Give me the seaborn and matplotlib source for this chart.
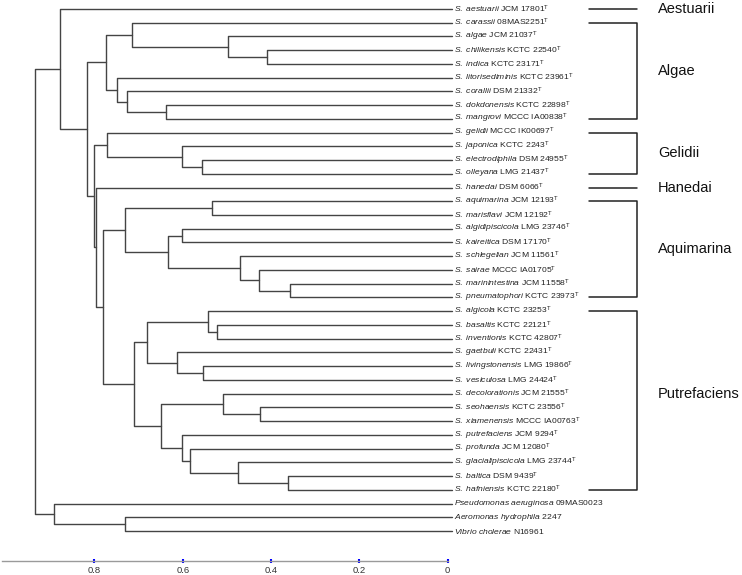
import matplotlib
matplotlib.use("Agg")
import numpy as np
import pandas as pd
import seaborn as sns
import matplotlib.pyplot as plt

# leaf labels, top to bottom
species = ["S. aestuarii", "S. carassii", "S. algae", "S. chilikensis", "S. indica",
           "S. litorisediminis", "S. corallii", "S. dokdonensis", "S. mangrovi",
           "S. gelidii", "S. japonica", "S. electrodiphila", "S. olleyana", "S. hanedai",
           "S. aquimarina", "S. marisflavi", "S. algidipiscicola", "S. kaireitica",
           "S. schlegelian", "S. sairae", "S. marinintestina", "S. pneumatophori",
           "S. algicola", "S. basaltis", "S. inventionis", "S. gaetbuli",
           "S. livingstonensis", "S. vesiculosa", "S. decolorationis", "S. seohaensis",
           "S. xiamenensis", "S. putrefaciens", "S. profunda", "S. glacialipiscicola",
           "S. baltica", "S. hafniensis", "Pseudomonas aeruginosa",
           "Aeromonas hydrophila", "Vibrio cholerae"]
strains = ["JCM 17801", "08MAS2251", "JCM 21037", "KCTC 22540", "KCTC 23171",
           "KCTC 23961", "DSM 21332", "KCTC 22898", "MCCC IA00838",
           "MCCC IK00697", "KCTC 2243", "DSM 24955", "LMG 21437", "DSM 6066",
           "JCM 12193", "JCM 12192", "LMG 23746", "DSM 17170",
           "JCM 11561", "MCCC IA01705", "JCM 11558", "KCTC 23973",
           "KCTC 23253", "KCTC 22121", "KCTC 42807", "KCTC 22431",
           "LMG 19866", "LMG 24424", "JCM 21555", "KCTC 23556",
           "MCCC IA00763", "JCM 9294", "JCM 12080", "LMG 23744",
           "DSM 9439", "KCTC 22180", "09MAS0023", "2247", "N16961"]
type_strain = [True] * 36 + [False] * 3

# joins: (node, left child, right child, distance); ints are leaf indices
joins = [
    ("chil_ind", 3, 4, 0.409),
    ("algae_n", 2, "chil_ind", 0.498),
    ("caras_n", 1, "algae_n", 0.716),
    ("dok_man", 7, 8, 0.638),
    ("coral_n", 6, "dok_man", 0.726),
    ("litor_n", 5, "coral_n", 0.750),
    ("algae_clade", "caras_n", "litor_n", 0.775),
    ("ele_oll", 11, 12, 0.556),
    ("jap_n", 10, "ele_oll", 0.602),
    ("gelidii_clade", 9, "jap_n", 0.772),
    ("aqu_mar", 14, 15, 0.533),
    ("alg_kai", 16, 17, 0.602),
    ("mari_pne", 20, 21, 0.357),
    ("sai_n", 19, "mari_pne", 0.427),
    ("sch_n", 18, "sai_n", 0.470),
    ("aqm_sub", "alg_kai", "sch_n", 0.633),
    ("aquimarina_clade", "aqu_mar", "aqm_sub", 0.730),
    ("bas_inv", 23, 24, 0.522),
    ("algic_n", 22, "bas_inv", 0.542),
    ("liv_ves", 26, 27, 0.555),
    ("gae_n", 25, "liv_ves", 0.614),
    ("put_a", "algic_n", "gae_n", 0.680),
    ("seo_xia", 29, 30, 0.426),
    ("dec_n", 28, "seo_xia", 0.509),
    ("bal_haf", 34, 35, 0.362),
    ("gla_n", 33, "bal_haf", 0.474),
    ("pro_n", 32, "gla_n", 0.583),
    ("putr_n", 31, "pro_n", 0.602),
    ("put_b", "dec_n", "putr_n", 0.650),
    ("putrefaciens_clade", "put_a", "put_b", 0.710),
    ("aqu_put", "aquimarina_clade", "putrefaciens_clade", 0.780),
    ("han_n", 13, "aqu_put", 0.797),
    ("gel_n", "gelidii_clade", "han_n", 0.801),
    ("b_n", "algae_clade", "gel_n", 0.816),
    ("shew", 0, "b_n", 0.877),
    ("aer_vib", 37, 38, 0.731),
    ("outgroup", 36, "aer_vib", 0.892),
    ("root", "shew", "outgroup", 0.935),
]

# clade brackets
clade_names = ["Aestuarii", "Algae", "Gelidii", "Hanedai", "Aquimarina", "Putrefaciens"]
clade_first = [0, 1, 9, 13, 14, 22]
clade_last = [0, 8, 12, 13, 21, 35]
clade_label_y = [0, 4.5, 10.5, 13, 17.5, 28.0]

ticks = [0.8, 0.6, 0.4, 0.2, 0]
tick_labels = ["0.8", "0.6", "0.4", "0.2", "0"]

sns.set_theme(style="white")
plt.rcParams["font.family"] = ["Liberation Sans", "DejaVu Sans"]
plt.rcParams["mathtext.fontset"] = "custom"
plt.rcParams["mathtext.rm"] = "Liberation Sans"
plt.rcParams["mathtext.it"] = "Liberation Sans:italic"

LEAF_END = -0.01

# node positions -> elbow segments
pos = {i: (LEAF_END, float(i)) for i in range(len(species))}
rows = []
for name, a, b, h in joins:
    xa, ya = pos[a]
    xb, yb = pos[b]
    for k, (px, py) in enumerate([(xa, ya), (h, ya), (h, yb), (xb, yb)]):
        rows.append({"x": px, "y": py, "seg": name, "k": k})
    pos[name] = (h, (ya + yb) / 2)
seg_df = pd.DataFrame(rows)

fig = plt.figure(figsize=(7.42, 5.75), dpi=100)
ax = fig.add_axes([0, 14 / 575, 1, 561 / 575])

sns.lineplot(data=seg_df, x="x", y="y", units="seg", estimator=None, sort=False,
             color="#444444", linewidth=1.0, ax=ax, legend=False)

ax.set_xlim(1.014, -0.6666)
ax.set_ylim(40.18, -0.648)
ax.set_xlabel("")
ax.set_ylabel("")

# leaf labels
for i, (sp, st, t) in enumerate(zip(species, strains, type_strain)):
    it = sp.replace(" ", r"\ ")
    lab = r"$\mathit{" + it + "}$ " + st
    if t:
        lab += r"$^{\mathrm{T}}$"
    ax.text(-0.0145, i, lab, fontsize=6.1, color="#222222", va="center", ha="left")

# clade brackets and names
for nm, f, l, ly in zip(clade_names, clade_first, clade_last, clade_label_y):
    if f == l:
        ax.plot([-0.32, -0.429], [f, f], color="#222222", lw=1.1)
    else:
        ax.plot([-0.32, -0.429, -0.429, -0.32], [f, f, l, l], color="#222222", lw=1.1)
    ax.text(-0.476, ly, nm, fontsize=10.5, color="#111111", va="center", ha="left")

# distance axis
ax.set_xticks(ticks)
ax.set_xticklabels(tick_labels)
ax.set_yticks([])
for s in ["left", "top", "right"]:
    ax.spines[s].set_visible(False)
ax.spines["bottom"].set_bounds(0, 1.01)
ax.spines["bottom"].set_color("#9a9a9a")
ax.spines["bottom"].set_linewidth(1.0)
ax.tick_params(axis="x", bottom=True, direction="inout", length=3, width=1.5,
               color="blue", labelsize=6.8, labelcolor="#333333", pad=2)

fig.savefig("out.png", dpi=100)
